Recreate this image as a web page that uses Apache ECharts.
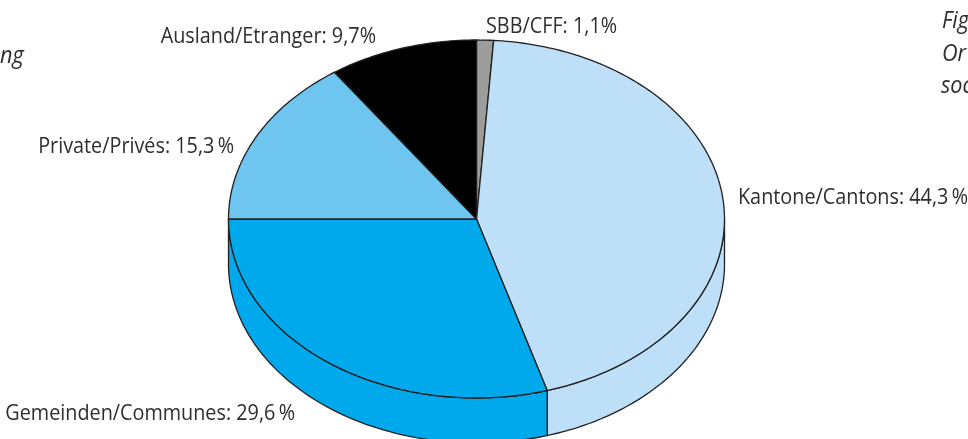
<!DOCTYPE html>
<html>
<head>
<meta charset="utf-8">
<script src="https://cdn.jsdelivr.net/npm/echarts@6/dist/echarts.min.js"></script>
<style>
html, body { margin: 0; padding: 0; background: #fff; }
#main { width: 968px; height: 439px; }
</style>
</head>
<body>
<div id="main"></div>
<script>
// shares clockwise from 12 o'clock
var names = ['SBB/CFF', 'Kantone/Cantons', 'Gemeinden/Communes', 'Private/Privés', 'Ausland/Etranger'];
var values = [1.1, 44.3, 29.6, 15.3, 9.7];
var valueLabels = ['1,1%', '44,3\u2009%', '29,6\u2009%', '15,3\u2009%', '9,7%'];
var colors = ['#9d9d9c', '#bde0f8', '#00a8ec', '#6dc5f0', '#000000'];

// cut-off caption text at the page edges
var cutText = [
    { text: 'ng', x: 0, y: 56 },
    { text: 'Fig', x: 942, y: 21 },
    { text: 'Or', x: 942, y: 54 },
    { text: 'soc', x: 941, y: 86 }
];

// label anchors
var labelPos = [
    { x: 486, y: 27, align: 'left' },
    { x: 738, y: 198, align: 'left' },
    { x: 295, y: 414, align: 'right' },
    { x: 234, y: 147, align: 'right' },
    { x: 376, y: 37, align: 'right' }
];

var cx = 476.5, cy = 219, rx = 248, ry = 179, depth = 45;
var lineColor = '#231f20';
var fontName = '"Open Sans", "Noto Sans", sans-serif';
var textSqueeze = 0.9; // the source face is a narrow one

var total = values.reduce(function (a, b) { return a + b; }, 0);

function angleAt(index) {
    var sum = 0;
    for (var i = 0; i < index; i++) {
        sum += values[i];
    }
    return sum / total * 360;
}

function pointAt(deg, dy) {
    var r = deg * Math.PI / 180;
    return [cx + rx * Math.sin(r), cy - ry * Math.cos(r) + (dy || 0)];
}

function arcPoints(from, to, dy) {
    var pts = [];
    for (var d = from; d < to; d += 1) {
        pts.push(pointAt(d, dy));
    }
    pts.push(pointAt(to, dy));
    return pts;
}

function renderSide(params, api) {
    var i = api.value(0);
    // only the front half of the rim shows
    var from = Math.max(angleAt(i), 90);
    var to = Math.min(angleAt(i + 1), 270);
    if (to <= from) {
        return { type: 'group', children: [] };
    }
    var pts = arcPoints(from, to, 0).concat(arcPoints(from, to, depth).reverse());
    return {
        type: 'polygon',
        shape: { points: pts },
        style: { fill: colors[i], stroke: lineColor, lineWidth: 1.3 }
    };
}

function renderTop(params, api) {
    var i = api.value(0);
    var pts = [[cx, cy]].concat(arcPoints(angleAt(i), angleAt(i + 1), 0));
    return {
        type: 'polygon',
        shape: { points: pts },
        style: { fill: colors[i], stroke: lineColor, lineWidth: 1.3, lineJoin: 'round' }
    };
}

function renderLabel(params, api) {
    var i = api.value(0);
    return {
        type: 'text',
        x: labelPos[i].x,
        y: labelPos[i].y,
        scaleX: textSqueeze,
        style: {
            text: names[i] + ': ' + valueLabels[i],
            font: '22px ' + fontName,
            fill: '#2f2d2e',
            align: labelPos[i].align,
            verticalAlign: 'middle'
        }
    };
}

var rows = values.map(function (v, i) { return [i, v]; });

var myChart = echarts.init(document.getElementById('main'));
var option = {
    animation: false,
    backgroundColor: '#ffffff',
    graphic: cutText.map(function (t) {
        return {
            type: 'text',
            x: t.x,
            y: t.y,
            scaleX: textSqueeze,
            style: {
                text: t.text,
                font: 'italic 24px ' + fontName,
                fill: '#2f2d2e',
                verticalAlign: 'middle'
            }
        };
    }),
    series: [
        { type: 'custom', coordinateSystem: 'none', silent: true, renderItem: renderSide, data: rows },
        { type: 'custom', coordinateSystem: 'none', silent: true, renderItem: renderTop, data: rows },
        { type: 'custom', coordinateSystem: 'none', silent: true, renderItem: renderLabel, data: rows }
    ]
};
myChart.setOption(option);
</script>
</body>
</html>
